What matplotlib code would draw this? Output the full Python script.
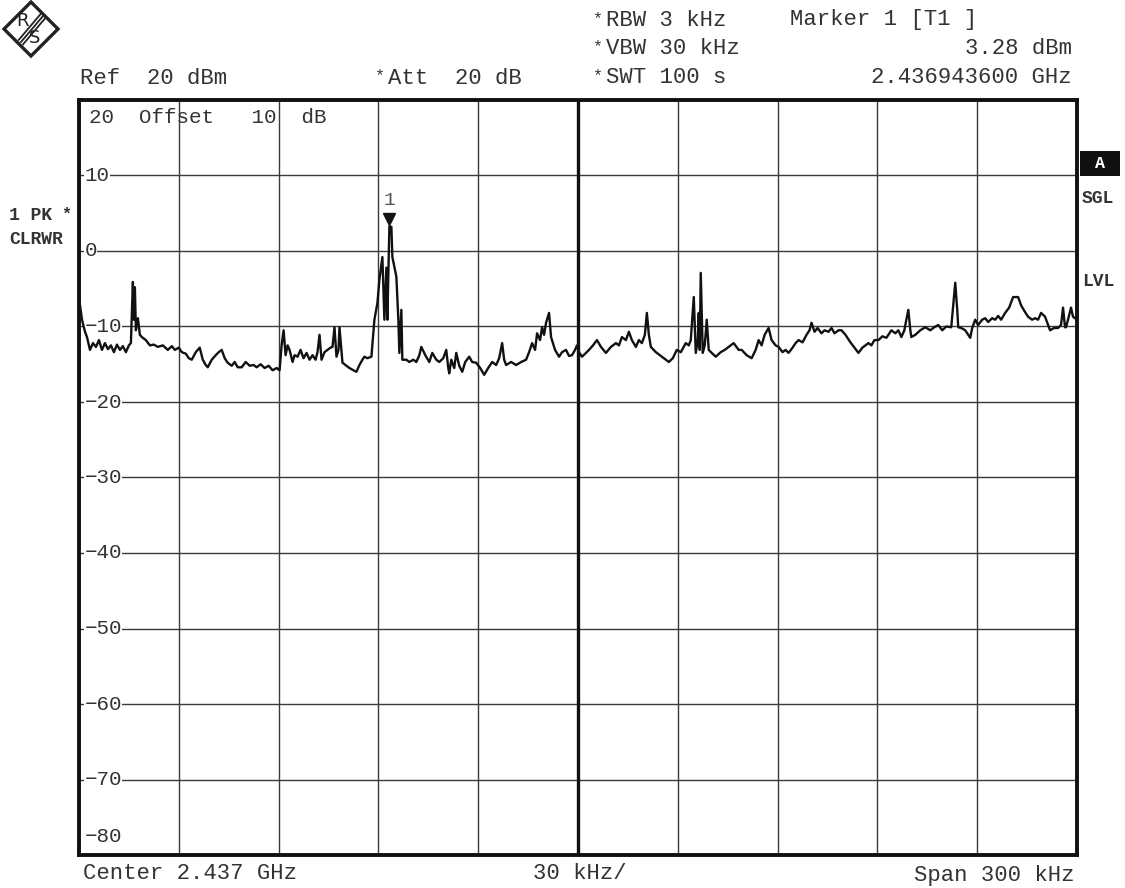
import numpy as np
import matplotlib
matplotlib.use('Agg')
from matplotlib import pyplot as plt
from matplotlib.patches import Polygon
from matplotlib.lines import Line2D

# trace: offset from start frequency (kHz) and level (dBm)
freq_khz = [
    0.0, 0.3, 0.9, 1.8, 2.4, 3.3, 4.2, 5.1, 6.0, 6.9,
    7.8, 8.7, 9.6, 10.5, 11.4, 12.3, 13.2, 14.1, 15.0, 15.6,
    16.2, 16.5, 16.8, 17.1, 17.7, 18.3, 18.9, 20.1, 21.3, 22.5,
    23.7, 25.2, 26.7, 27.9, 28.8, 30.0, 30.9, 32.1, 33.0, 33.9,
    35.1, 36.3, 37.2, 38.1, 38.7, 39.9, 41.1, 42.0, 42.9, 43.8,
    44.7, 45.9, 46.8, 47.7, 48.9, 50.1, 51.3, 52.5, 53.4, 54.6,
    55.8, 57.0, 58.2, 59.4, 60.3, 60.9, 61.5, 62.1, 62.7, 63.3,
    64.2, 64.8, 65.7, 66.6, 67.5, 68.4, 69.3, 70.2, 71.1, 71.7,
    72.3, 72.9, 73.8, 74.7, 75.6, 76.2, 76.8, 77.4, 78.0, 78.3,
    79.2, 80.1, 81.3, 82.5, 83.4, 84.3, 85.2, 85.8, 86.7, 87.9,
    88.8, 89.7, 90.3, 91.2, 91.8, 92.4, 92.7, 93.3, 93.9, 94.2,
    95.4, 96.0, 96.3, 96.9, 97.2, 98.4, 99.3, 100.5, 101.4, 102.3,
    102.9, 104.1, 105.3, 106.2, 107.4, 108.3, 109.5, 110.4, 111.0, 111.3,
    111.9, 112.8, 113.4, 114.3, 115.2, 116.1, 117.3, 118.2, 119.4, 120.6,
    121.8, 123.0, 124.2, 125.4, 126.3, 127.2, 127.8, 128.4, 129.9, 131.4,
    132.9, 134.4, 135.3, 136.2, 137.1, 137.7, 138.6, 139.2, 139.8, 140.4,
    141.3, 141.9, 143.1, 144.3, 145.2, 146.4, 147.3, 148.2, 149.1, 149.7,
    150.3, 151.2, 152.4, 153.3, 154.5, 155.7, 156.9, 158.4, 159.9, 161.4,
    162.3, 163.2, 164.4, 165.3, 166.2, 167.4, 168.3, 169.2, 170.1, 170.7,
    171.3, 171.9, 173.4, 175.2, 176.4, 177.3, 178.5, 179.7, 180.9, 182.4,
    183.3, 183.9, 184.8, 185.4, 186.0, 186.3, 186.6, 186.9, 187.5, 188.1,
    188.7, 189.3, 190.2, 191.4, 192.9, 194.1, 195.3, 196.8, 198.3, 199.2,
    200.7, 202.2, 203.4, 204.3, 205.2, 206.1, 207.3, 208.2, 209.4, 210.3,
    211.5, 212.4, 213.3, 214.5, 215.4, 216.3, 217.5, 218.7, 219.6, 220.2,
    221.1, 222.0, 223.2, 224.1, 225.3, 226.2, 227.1, 228.3, 229.2, 230.4,
    231.9, 233.1, 234.3, 235.5, 236.4, 237.3, 238.2, 239.1, 240.3, 241.5,
    242.7, 244.2, 245.4, 246.3, 247.2, 248.1, 248.7, 249.3, 249.9, 250.2,
    251.4, 252.9, 254.4, 255.9, 257.1, 258.3, 259.5, 260.7, 262.2, 262.8,
    263.4, 264.0, 264.3, 265.2, 266.4, 267.3, 267.9, 268.5, 269.4, 270.3,
    271.5, 272.4, 273.3, 274.5, 275.4, 276.3, 277.2, 278.4, 279.6, 280.8,
    282.3, 283.2, 284.4, 285.3, 286.5, 287.4, 288.3, 289.2, 290.4, 291.3,
    291.9, 293.1, 294.3, 295.2, 295.8, 296.4, 296.7, 297.3, 298.2, 298.8,
    300.0,
]
level_dbm = [
    -6.5, -7.2, -9.1, -10.7, -11.4, -13.1, -12.2, -12.7, -11.8, -13.1,
    -12.2, -13.0, -12.5, -13.4, -12.4, -13.1, -12.6, -13.4, -12.5, -12.2,
    -4.1, -9.1, -4.8, -10.5, -8.9, -11.1, -11.4, -11.8, -12.5, -12.4,
    -12.7, -12.5, -13.1, -12.6, -13.1, -12.8, -13.4, -13.6, -14.2, -14.4,
    -13.4, -12.8, -14.4, -15.1, -15.4, -14.4, -13.8, -13.4, -13.1, -14.2,
    -14.8, -15.2, -14.7, -15.4, -15.4, -14.7, -15.2, -15.1, -15.4, -15.0,
    -15.5, -15.2, -15.8, -15.5, -15.8, -12.5, -10.5, -13.8, -12.5, -13.1,
    -14.7, -13.8, -14.0, -13.1, -14.2, -13.5, -14.4, -13.8, -14.4, -13.4,
    -11.1, -14.4, -13.4, -13.1, -12.8, -12.7, -10.1, -14.0, -13.1, -10.1,
    -14.8, -15.1, -15.5, -15.8, -16.0, -15.1, -14.4, -14.0, -14.2, -14.0,
    -9.1, -6.9, -3.8, -0.8, -9.1, -2.2, -9.1, 3.28, 3.2, -0.8,
    -3.4, -9.1, -13.5, -7.8, -14.4, -14.4, -14.7, -14.4, -14.7, -13.8,
    -12.7, -13.8, -14.7, -13.5, -14.4, -14.7, -14.2, -13.1, -15.5, -16.2,
    -14.4, -15.5, -13.5, -15.2, -16.0, -14.7, -14.0, -14.7, -14.8, -15.5,
    -16.4, -15.5, -14.7, -15.1, -14.2, -12.2, -14.4, -15.1, -14.7, -15.1,
    -14.7, -14.4, -13.4, -12.2, -13.1, -10.9, -11.8, -10.1, -11.1, -9.5,
    -8.2, -11.4, -13.1, -14.0, -13.4, -13.1, -13.9, -13.8, -13.1, -12.5,
    -13.4, -14.0, -13.5, -13.1, -12.5, -11.8, -12.7, -13.5, -12.7, -12.2,
    -12.5, -11.4, -11.8, -10.7, -11.8, -12.7, -11.8, -12.2, -11.1, -8.2,
    -11.1, -12.7, -13.4, -14.0, -14.4, -14.7, -14.2, -13.1, -13.4, -12.2,
    -12.5, -11.8, -6.1, -13.5, -11.8, -8.2, -13.1, -2.9, -13.5, -12.5,
    -9.1, -13.1, -13.5, -14.0, -13.4, -13.1, -12.7, -12.2, -13.1, -13.1,
    -13.8, -14.2, -13.1, -11.8, -12.5, -11.1, -10.2, -11.8, -12.5, -12.7,
    -13.4, -13.1, -13.5, -12.8, -12.2, -11.8, -12.1, -11.1, -10.5, -9.5,
    -10.7, -10.2, -10.9, -10.5, -10.7, -10.2, -10.9, -10.5, -10.5, -11.1,
    -12.1, -12.8, -13.5, -12.8, -12.5, -12.2, -12.5, -11.8, -11.8, -11.3,
    -11.5, -10.5, -10.9, -10.5, -11.4, -10.5, -9.1, -7.8, -10.5, -11.4,
    -11.1, -10.5, -10.1, -10.5, -10.1, -9.8, -10.5, -10.0, -10.1, -7.2,
    -4.2, -7.8, -10.1, -10.2, -10.5, -11.1, -11.5, -10.2, -9.1, -9.8,
    -9.1, -8.9, -9.4, -8.9, -9.1, -8.6, -9.1, -8.2, -7.5, -6.1,
    -6.1, -7.2, -8.1, -8.7, -9.1, -8.9, -9.1, -8.2, -8.7, -9.8,
    -10.5, -10.2, -10.2, -9.8, -7.5, -10.1, -10.1, -9.1, -7.5, -8.7,
    -9.1,
]

marker_khz = 93.3
marker_dbm = 3.28
level_ticks = [10, 0, -10, -20, -30, -40, -50, -60, -70]

MONO = 'Liberation Mono'
INK = '#333333'
W, H = 1125, 888

fig = plt.figure(figsize=(W / 100, H / 100), dpi=100)
ax = fig.add_axes([79 / W, 1 - 855 / H, 998 / W, 755 / H])
ax.set_xlim(0, 300)
ax.set_ylim(-80, 20)
ax.set_xticks(np.arange(0, 301, 30))
ax.set_yticks(np.arange(-80, 21, 10))
ax.tick_params(length=0, labelleft=False, labelbottom=False)
ax.grid(True, color='#3a3a3a', lw=1.0)
ax.axvline(150, color='#111', lw=2.4)
for s in ax.spines.values():
    s.set_linewidth(2.8)
    s.set_color('#111')

ax.plot(freq_khz, level_dbm, color='#111', lw=1.7, zorder=3)

# marker 1
ax.plot([marker_khz], [marker_dbm + 1.0], marker='v', ms=9, color='#111', zorder=4)
ax.text(marker_khz, marker_dbm + 2.3, '1', family=MONO, fontsize=14, color='#555',
        ha='center', va='bottom')

# level labels inside the grid
for v in level_ticks:
    ax.text(1.6, v, str(v).replace('-', '\u2212') if v < 0 else str(v), family=MONO,
            fontsize=15, color=INK, ha='left', va='center',
            bbox=dict(facecolor='white', edgecolor='none', pad=0.5), zorder=2)
ax.text(1.6, -77.5, '\u221280', family=MONO, fontsize=15, color=INK, ha='left', va='center')
ax.text(3.0, 17.7, '20  Offset   10  dB', family=MONO, fontsize=15, color=INK,
        ha='left', va='center')

# header texts
def ftext(x, y, s, **kw):
    kw.setdefault('family', MONO)
    kw.setdefault('fontsize', 16)
    kw.setdefault('color', INK)
    kw.setdefault('va', 'center')
    fig.text(x / W, 1 - y / H, s, **kw)

ftext(80, 78, 'Ref  20 dBm')
ftext(375, 76, '*', fontsize=12)
ftext(388, 78, 'Att  20 dB')
for yy, s in [(20, 'RBW 3 kHz'), (48, 'VBW 30 kHz'), (77, 'SWT 100 s')]:
    ftext(593, yy - 1, '*', fontsize=12)
    ftext(606, yy, s)
ftext(790, 20, 'Marker 1 [T1 ]')
ftext(1072, 48, '3.28 dBm', ha='right')
ftext(1072, 77, '2.436943600 GHz', ha='right')

# footer texts
ftext(83, 873, 'Center 2.437 GHz')
ftext(533, 873, '30 kHz/')
ftext(1074, 875, 'Span 300 kHz', ha='right')

# side labels
ftext(9, 216, '1 PK', fontsize=13, weight='bold')
ftext(61, 214, '*', fontsize=12, weight='bold')
ftext(9, 239, 'CLRWR', fontsize=13, weight='bold')
ftext(1100, 164, ' A ', fontsize=12, weight='bold', color='white', ha='center',
      bbox=dict(facecolor='#111', edgecolor='none', boxstyle='square,pad=0.3'))
ftext(1082, 198, 'SGL', fontsize=13, weight='bold')
ftext(1082, 282, 'LVL', fontsize=13, weight='bold')

# R&S logo
cx, cy, r = 31, 29, 27
diamond = Polygon([((cx) / W, 1 - (cy - r) / H), ((cx + r) / W, 1 - cy / H),
                   (cx / W, 1 - (cy + r) / H), ((cx - r) / W, 1 - cy / H)],
                  closed=True, fill=False, lw=2.4, edgecolor='#222',
                  transform=fig.transFigure)
fig.add_artist(diamond)
for d in (-2.2, 0, 2.2):
    fig.add_artist(Line2D([(cx + 12 + d) / W, (cx - 10 + d) / W],
                          [1 - (cy - 13 + d) / H, 1 - (cy + 13 + d) / H],
                          color='#222', lw=1.3, transform=fig.transFigure))
ftext(cx - 8, cy - 8, 'R', fontsize=13, family='DejaVu Sans', ha='center', color='#222')
ftext(cx + 4, cy + 9, 'S', fontsize=13, family='DejaVu Sans', ha='center', color='#222')

fig.savefig('out.png', dpi=100, facecolor='white')
